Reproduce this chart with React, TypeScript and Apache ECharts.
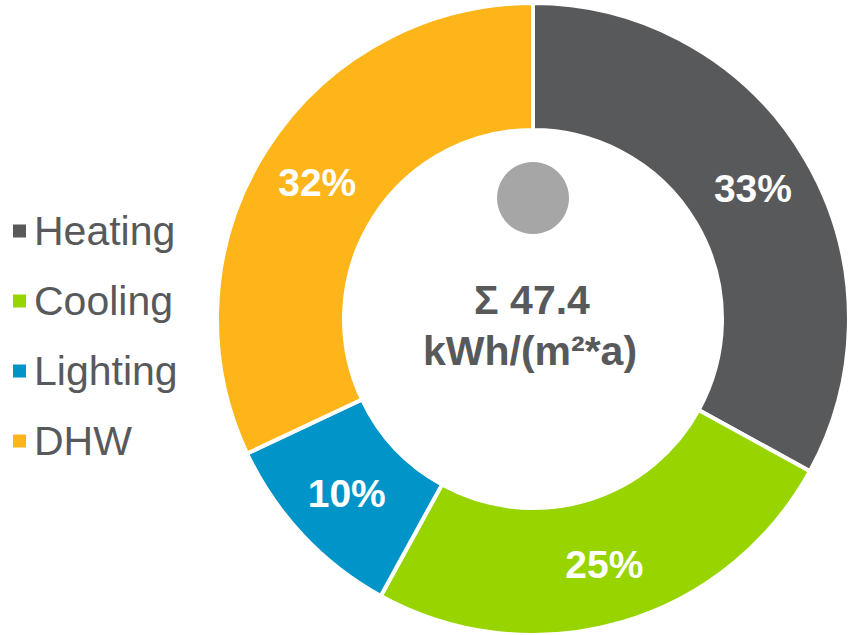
import React, { useEffect, useRef } from "react";
import * as echarts from "echarts";

const categories = ["Heating", "Cooling", "Lighting", "DHW"];
const shares = [33, 25, 10, 32];
const colors = ["#58595b", "#97d400", "#0094c9", "#fdb519"];
const totalLine = "Σ 47.4";
const unitLine = "kWh/(m²*a)";

export default function App() {
  const ref = useRef<HTMLDivElement>(null);
  useEffect(() => {
    if (!ref.current) return;
    const chart = echarts.init(ref.current, undefined, { renderer: "svg" });
    const font = "'Liberation Sans', Arial, sans-serif";
    chart.setOption({
      animation: false,
      backgroundColor: "#ffffff",
      color: colors,
      legend: {
        orient: "vertical",
        left: 6,
        top: 205,
        icon: "rect",
        itemWidth: 15,
        itemHeight: 15,
        itemGap: 28,
        selectedMode: false,
        data: categories,
        textStyle: {
          fontFamily: font,
          fontSize: 41,
          lineHeight: 42,
          color: "#58595b",
          padding: [0, 0, 0, 2],
        },
      },
      graphic: [
        {
          type: "circle",
          shape: { cx: 533, cy: 198, r: 36 },
          style: { fill: "#a6a6a6" },
        },
        {
          type: "text",
          x: 532,
          y: 300,
          style: {
            text: totalLine,
            fontFamily: font,
            fontSize: 41,
            fontWeight: "bold",
            fill: "#58595b",
            textAlign: "center",
            textVerticalAlign: "middle",
          },
        },
        {
          type: "text",
          x: 530,
          y: 351,
          style: {
            text: unitLine,
            fontFamily: font,
            fontSize: 41,
            fontWeight: "bold",
            fill: "#58595b",
            textAlign: "center",
            textVerticalAlign: "middle",
          },
        },
      ],
      series: [
        {
          type: "pie",
          center: [533, 319],
          radius: [189, 316],
          startAngle: 90,
          clockwise: true,
          avoidLabelOverlap: false,
          itemStyle: { borderColor: "#ffffff", borderWidth: 4 },
          label: {
            show: true,
            position: "inside",
            formatter: (p: any) => p.value + "%",
            fontFamily: font,
            fontSize: 39,
            fontWeight: "bold",
            color: "#ffffff",
          },
          labelLine: { show: false },
          emphasis: { disabled: true },
          data: categories.map((name, i) => ({ name, value: shares[i] })),
        },
      ],
    });
    return () => chart.dispose();
  }, []);
  return (
    <div
      ref={ref}
      style={{ position: "fixed", left: 0, top: 0, width: 850, height: 635 }}
    />
  );
}
